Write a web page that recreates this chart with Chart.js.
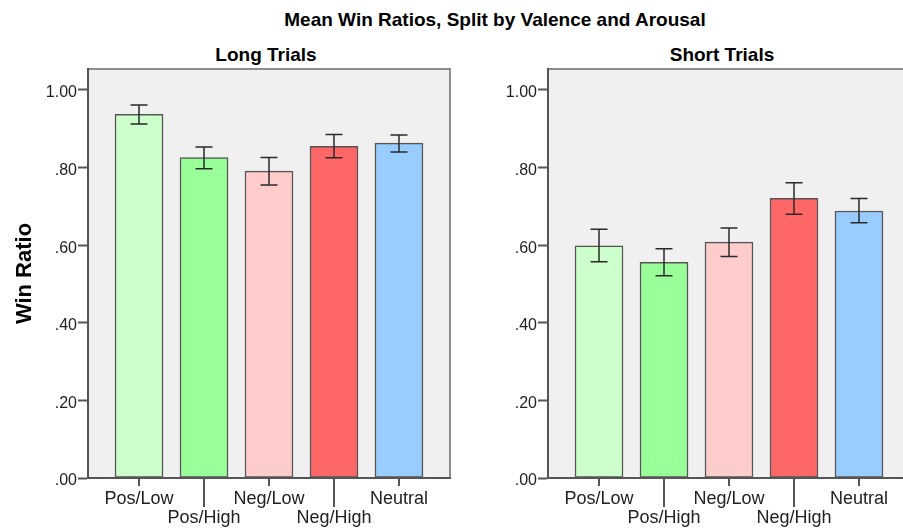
<!DOCTYPE html>
<html><head><meta charset="utf-8">
<script src="https://cdn.jsdelivr.net/npm/chart.js@4/dist/chart.umd.min.js"></script>
<style>
html,body{margin:0;padding:0;background:#fff;width:903px;height:529px;overflow:hidden;position:relative;font-family:'Liberation Sans',Arial,sans-serif;}
.t{position:absolute;font-weight:bold;font-size:19px;line-height:19px;white-space:nowrap;transform:translateX(-50%);color:#000;}
.box{position:absolute;top:0;width:460px;height:529px;}
</style></head><body>
<div class="t" style="left:495px;top:10px;">Mean Win Ratios, Split by Valence and Arousal</div>
<div class="t" style="left:266px;top:45px;">Long Trials</div>
<div class="t" style="left:722px;top:45px;">Short Trials</div>
<div class="box" style="left:0px"><canvas id="left" width="460" height="529"></canvas></div>
<div class="box" style="left:460px"><canvas id="right" width="460" height="529"></canvas></div>
<script>
const categories = ['Pos/Low', 'Pos/High', 'Neg/Low', 'Neg/High', 'Neutral'];
const longMeans  = [0.937, 0.826, 0.791, 0.855, 0.863];
const longLower  = [0.912, 0.797, 0.755, 0.825, 0.840];
const longUpper  = [0.961, 0.853, 0.826, 0.885, 0.884];
const shortMeans = [0.598, 0.556, 0.608, 0.721, 0.688];
const shortLower = [0.557, 0.521, 0.571, 0.680, 0.658];
const shortUpper = [0.641, 0.591, 0.644, 0.761, 0.720];
const yTicks = [0, 0.2, 0.4, 0.6, 0.8, 1.0];
const barColors = ['#CCFFCC', '#99FF99', '#FFCCCC', '#FF6666', '#99CCFF'];

const FONT = "'Liberation Sans', Arial, sans-serif";

const panelPlugin = {
  id: 'panel',
  beforeDraw(chart) {
    const {ctx, chartArea: a} = chart;
    ctx.save();
    ctx.fillStyle = '#F0F0F0';
    ctx.fillRect(a.left, a.top, a.right - a.left, a.bottom - a.top);
    ctx.strokeStyle = '#8C8C8C';
    ctx.lineWidth = 2;
    ctx.beginPath();
    ctx.moveTo(a.left, a.top);
    ctx.lineTo(a.right, a.top);
    ctx.lineTo(a.right, a.bottom);
    ctx.stroke();
    ctx.restore();
  },
  afterDatasetsDraw(chart) {
    const {ctx} = chart;
    const xs = chart.scales.x, ys = chart.scales.y;
    const lo = chart.options.plugins.panel.lower, hi = chart.options.plugins.panel.upper;
    ctx.save();
    ctx.strokeStyle = '#2a2a2a';
    ctx.lineWidth = 1.5;
    for (let i = 0; i < categories.length; i++) {
      const x = xs.getPixelForValue(i);
      const y1 = ys.getPixelForValue(hi[i]);
      const y2 = ys.getPixelForValue(lo[i]);
      ctx.beginPath();
      ctx.moveTo(x, y1); ctx.lineTo(x, y2);
      ctx.moveTo(x - 8.5, y1); ctx.lineTo(x + 8.5, y1);
      ctx.moveTo(x - 8.5, y2); ctx.lineTo(x + 8.5, y2);
      ctx.stroke();
    }
    ctx.restore();
  },
  afterDraw(chart) {
    const {ctx, chartArea: a} = chart;
    const xs = chart.scales.x;
    ctx.save();
    ctx.strokeStyle = '#555';
    ctx.lineWidth = 2;
    for (let i = 0; i < categories.length; i++) {
      const x = Math.round(xs.getPixelForValue(i));
      ctx.beginPath();
      ctx.moveTo(x, a.bottom);
      ctx.lineTo(x, a.bottom + (i % 2 ? 29 : 8));
      ctx.stroke();
    }
    ctx.restore();
  }
};

function makeChart(id, means, lower, upper, showYTitle) {
  return new Chart(document.getElementById(id), {
    type: 'bar',
    data: {
      datasets: [{
        data: categories.map((c, i) => ({x: i, y: means[i]})),
        backgroundColor: barColors,
        borderColor: '#555',
        borderWidth: 1.5,
        borderSkipped: false,
        barThickness: 48
      }]
    },
    plugins: [panelPlugin],
    options: {
      responsive: false,
      animation: false,
      devicePixelRatio: 1,
      layout: {padding: {left: 0, right: 10, top: 69, bottom: 0}},
      plugins: {
        legend: {display: false},
        tooltip: {enabled: false},
        title: {display: false},
        panel: {lower: lower, upper: upper}
      },
      scales: {
        x: {
          type: 'linear',
          offset: false,
          min: -0.785,
          max: 4.785,
          grid: {display: false, drawTicks: false, offset: false},
          border: {display: true, color: '#555', width: 2},
          afterBuildTicks: s => { s.ticks = categories.map((c, i) => ({value: i})); },
          ticks: {
            autoSkip: false, maxRotation: 0, minRotation: 0, padding: 11,
            color: '#222',
            font: {family: FONT, size: 18, lineHeight: 1.08},
            callback: v => (v % 2 ? ['', categories[v]] : categories[v])
          },
          afterFit: s => { s.height = 51; }
        },
        y: {
          min: 0,
          max: 1.054,
          afterBuildTicks: s => { s.ticks = yTicks.map(v => ({value: v})); },
          ticks: {
            padding: 1, labelOffset: 3, color: '#222',
            font: {family: FONT, size: 16},
            callback: v => v.toFixed(2).replace(/^0/, '')
          },
          grid: {display: true, drawOnChartArea: false, drawTicks: true, tickLength: 10, tickColor: '#555', tickWidth: 2},
          border: {display: true, color: '#555', width: 2},
          title: {
            display: showYTitle, text: 'Win Ratio', color: '#000',
            font: {family: FONT, size: 22, weight: 'bold', lineHeight: 1.2},
            padding: {top: 12, bottom: 0}
          },
          afterFit: s => { s.width = 88; }
        }
      }
    }
  });
}

makeChart('left', longMeans, longLower, longUpper, true);
makeChart('right', shortMeans, shortLower, shortUpper, false);
</script>
</body></html>
